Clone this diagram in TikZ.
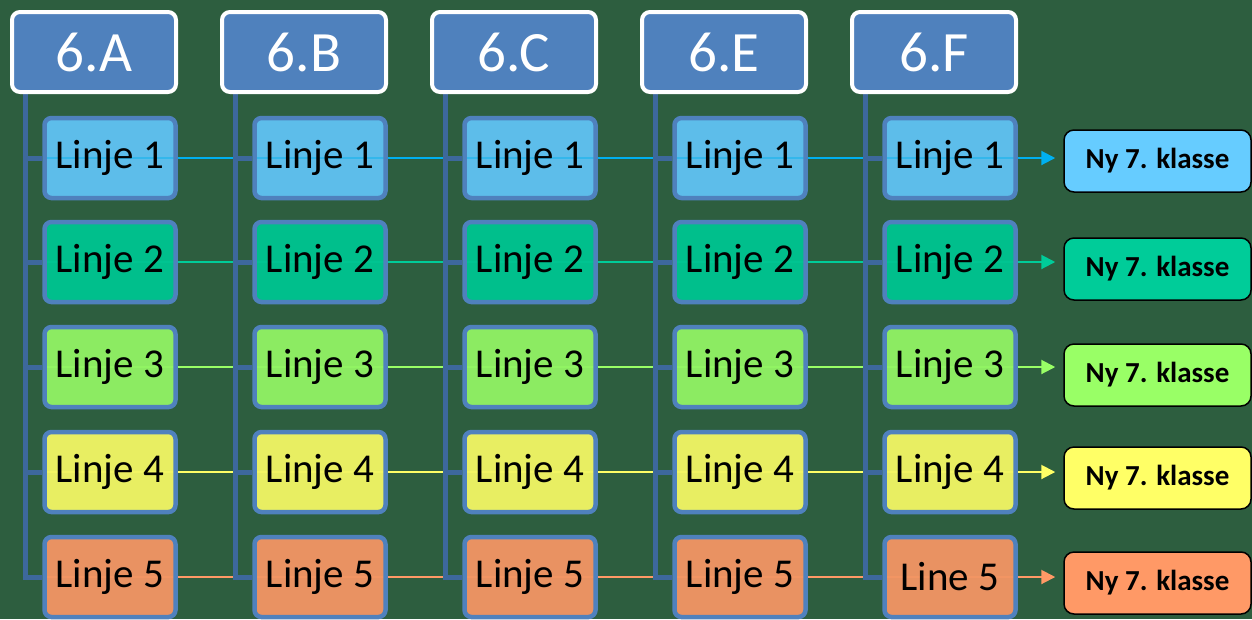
\documentclass[tikz,border=0pt]{standalone}
\usepackage{fontspec}
\setmainfont{Carlito}
\usetikzlibrary{arrows.meta,backgrounds}
\pgfdeclarelayer{back}
\pgfsetlayers{back,background,main}
\definecolor{bg}{HTML}{2D5E3F}
\definecolor{hdrfill}{HTML}{4F81BD}
\definecolor{boxline}{HTML}{4F81BD}
\definecolor{treecol}{HTML}{3D689C}
% linje fills
\definecolor{f1}{HTML}{5DBDEA}
\definecolor{f2}{HTML}{00BF8C}
\definecolor{f3}{HTML}{8CEB62}
\definecolor{f4}{HTML}{E8EE62}
\definecolor{f5}{HTML}{E99262}
% ny fills
\definecolor{n1}{HTML}{66CCFF}
\definecolor{n2}{HTML}{00CC99}
\definecolor{n3}{HTML}{99FF66}
\definecolor{n4}{HTML}{FFFF66}
\definecolor{n5}{HTML}{FF9966}
% line colours
\definecolor{l1}{HTML}{00B0F0}
\definecolor{l2}{HTML}{00CC99}
\definecolor{l3}{HTML}{99FF66}
\definecolor{l4}{HTML}{FFFF66}
\definecolor{l5}{HTML}{FF9966}
\tikzset{
  hdr/.style={draw=white, fill=hdrfill, line width=4pt, rounded corners=8pt,
    minimum width=164pt, minimum height=80pt, inner sep=0pt, text=white,
    font=\fontsize{57}{60}\selectfont},
  linjebox/.style={draw=boxline, line width=4.5pt, rounded corners=7pt,
    minimum width=131pt, minimum height=80pt, inner sep=0pt, text=black,
    font=\fontsize{41}{44}\selectfont},
  nybox/.style={draw=black, line width=1.5pt, rounded corners=10pt,
    minimum width=187pt, minimum height=62pt, inner sep=0pt, text=black,
    font=\fontsize{29}{32}\selectfont\bfseries},
  treeline/.style={draw=treecol, line width=5pt},
  rowline/.style={line width=2pt},
  rowarrow/.style={line width=2pt, -{Triangle[length=14pt,width=14pt]}},
}
\begin{document}
\begin{tikzpicture}[x=1pt,y=-1pt]
\begin{pgfonlayer}{back}
\fill[bg] (0,0) rectangle (1252,619);
\end{pgfonlayer}
\useasboundingbox (0,0) rectangle (1252,619);

% headers
\foreach \lab [count=\i] in {A,B,C,E,F}{
  \node[hdr] (h\i) at ({94+210*(\i-1)},52) {6.\lab};
  \coordinate (t\i) at ({25+210*(\i-1)},92);
}

% linje boxes
\foreach \r/\yy in {1/158,2/262,3/367,4/472,5/577}{
  \foreach \i in {1,...,5}{
    \node[linjebox, fill=f\r,
      path picture={\draw[color=l\r, line width=2pt, opacity=0.45]
        (path picture bounding box.west) -- (path picture bounding box.east);}]
      (b\i-\r) at ({110+210*(\i-1)},\yy)
      {\ifnum\i=5 \ifnum\r=5 Line 5\else Linje \r\fi\else Linje \r\fi};
  }
}

% ny boxes
\foreach \r/\yy in {1/161,2/269,3/375,4/478,5/583}{
  \node[nybox, fill=n\r] (n\r) at (1157.5,\yy) {Ny 7. klasse};
}

\begin{pgfonlayer}{background}
% row lines
\foreach \r in {1,...,5}{
  \draw[rowline, color=l\r] (t1 |- b1-\r.west) -- (b1-\r.west);
  \foreach \i [evaluate=\i as \j using int(\i+1)] in {1,...,4}{
    \draw[rowline, color=l\r] (b\i-\r.east) -- (b\j-\r.west);
  }
}
% tree lines
\foreach \i in {1,...,5}{
  \draw[treeline] (t\i) -- (t\i |- b\i-5.west) -- (b\i-5.west);
  \foreach \r in {1,...,4}{
    \draw[treeline] (t\i |- b\i-\r.west) -- (b\i-\r.west);
  }
}
\end{pgfonlayer}

% arrows to new classes
\foreach \r in {1,...,5}{
  \draw[rowarrow, color=l\r] (b5-\r.east) -- ([xshift=-8pt]b5-\r.east -| n\r.west);
}
\end{tikzpicture}
\end{document}
